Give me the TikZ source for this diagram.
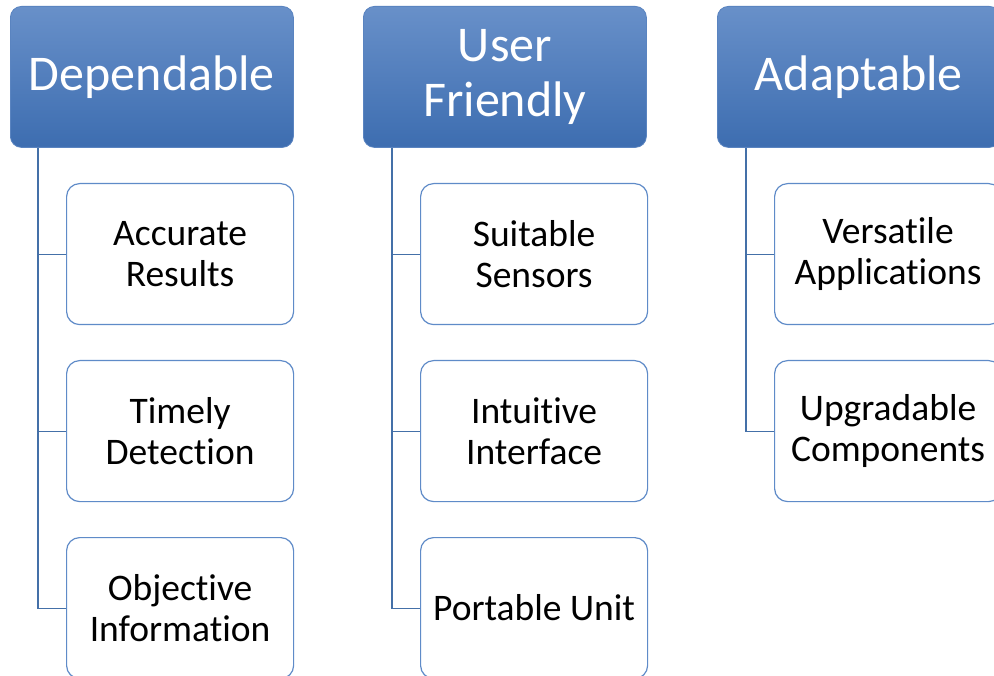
\documentclass[tikz,border=0pt]{standalone}
\usepackage{fontspec}
\setmainfont[Ligatures={NoCommon}]{Carlito}
\definecolor{headtop}{HTML}{6890C9}
\definecolor{headbot}{HTML}{3D6DB0}
\definecolor{headedge}{HTML}{5A84C0}
\definecolor{boxedge}{HTML}{5F8BC8}
\definecolor{linkcol}{HTML}{4470A8}
\tikzset{
  header/.style={anchor=north west, rounded corners=11pt, draw=headedge, line width=0.8pt,
    top color=headtop, bottom color=headbot, text=white, align=center,
    minimum width=283pt, minimum height=141pt, inner sep=0pt,
    font=\fontsize{50}{55}\selectfont},
  item/.style={anchor=north west, rounded corners=13pt, draw=boxedge, line width=1.2pt,
    fill=white, text=black, align=center,
    minimum width=227pt, minimum height=141pt, inner sep=0pt,
    font=\fontsize{37.5}{40.5}\selectfont},
  link/.style={draw=linkcol, line width=1.1pt}
}
\begin{document}
\begin{tikzpicture}[x=1pt,y=-1pt]
\useasboundingbox (0,0) rectangle (994,676);
\clip (0,0) rectangle (994,676);
\fill[white] (0,0) rectangle (994,676);

% column headers
\node[header] (h1) at (10,6) {Dependable};
\node[header] (h2) at (363,6) {User\\Friendly};
\node[header] (h3) at (717,6) {Adaptable};

% column 1
\node[item] (a1) at (66,183) {Accurate\\Results};
\node[item] (a2) at (66,360) {Timely\\Detection};
\node[item] (a3) at (66,537) {Objective\\Information};

% column 2
\node[item] (b1) at (420,183) {Suitable\\Sensors};
\node[item] (b2) at (420,360) {Intuitive\\Interface};
\node[item] (b3) at (420,537) {Portable Unit};

% column 3
\node[item] (c1) at (774,183) {Versatile\\Applications};
\node[item] (c2) at (774,360) {Upgradable\\Components};

% connector trunks
\coordinate (t1) at ([xshift=28pt]h1.south west);
\coordinate (t2) at ([xshift=29pt]h2.south west);
\coordinate (t3) at ([xshift=29pt]h3.south west);

\draw[link] (t1) |- (a3.west);
\draw[link] (t1 |- a1.west) -- (a1.west);
\draw[link] (t1 |- a2.west) -- (a2.west);

\draw[link] (t2) |- (b3.west);
\draw[link] (t2 |- b1.west) -- (b1.west);
\draw[link] (t2 |- b2.west) -- (b2.west);

\draw[link] (t3) |- (c2.west);
\draw[link] (t3 |- c1.west) -- (c1.west);
\end{tikzpicture}
\end{document}
